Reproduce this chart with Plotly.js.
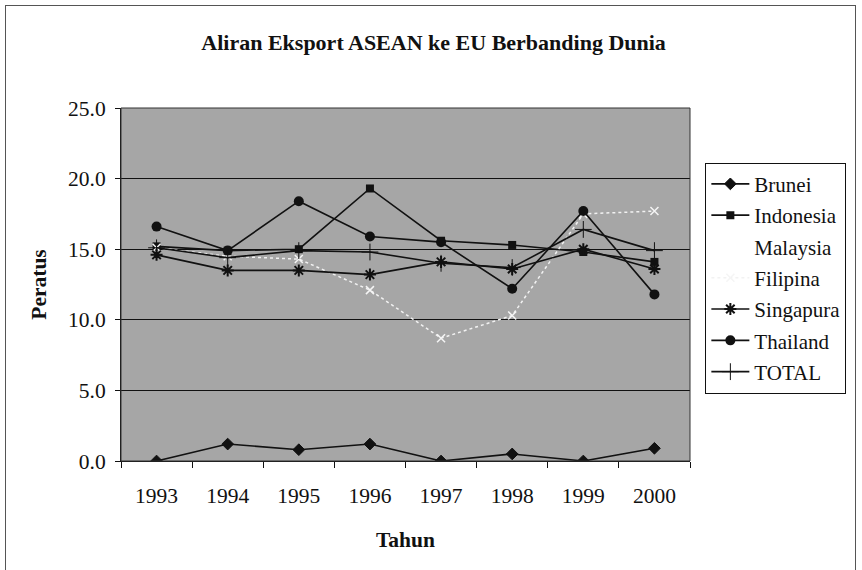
<!DOCTYPE html>
<html><head><meta charset="utf-8">
<script src="https://cdn.plot.ly/plotly-3.0.1.min.js"></script>
<style>
html,body{margin:0;padding:0;background:#fff;}
#wrap{position:relative;width:862px;height:570px;overflow:hidden;}
#chart{width:862px;height:570px;}
#frame{position:absolute;left:5px;top:5px;width:849px;height:580px;border:1px solid #555;pointer-events:none;}
</style></head>
<body><div id="wrap"><div id="chart"></div><div id="frame"></div></div>
<script>
const years = ['1993','1994','1995','1996','1997','1998','1999','2000'];
const brunei    = [0.0, 1.2, 0.8, 1.2, 0.0, 0.5, 0.0, 0.9];
const indonesia = [15.2, 14.9, 15.0, 19.3, 15.6, 15.3, 14.8, 14.1];
const malaysia  = [null, null, null, null, null, null, null, null];
const filipina  = [15.1, 14.5, 14.3, 12.1, 8.7, 10.3, 17.5, 17.7];
const singapura = [14.6, 13.5, 13.5, 13.2, 14.1, 13.6, 15.0, 13.6];
const thailand  = [16.6, 14.9, 18.4, 15.9, 15.5, 12.2, 17.7, 11.8];
const total     = [15.1, 14.4, 14.9, 14.8, 14.0, 13.7, 16.4, 14.9];
const yTicks = [0, 5, 10, 15, 20, 25];

const blk = '#111';
function tr(name, y, symbol, extra) {
  return Object.assign({
    type: 'scatter', mode: 'lines+markers', name: name, x: years, y: y, legendgroup: name,
    line: {color: blk, width: 1.6},
    marker: {symbol: symbol, size: 9, color: blk, line: {color: blk, width: 1}}
  }, extra || {});
}
const data = [
  tr('Brunei', brunei, 'diamond'),
  tr('Indonesia', indonesia, 'square', {marker: {symbol: 'square', size: 8, color: blk}}),
  tr('Malaysia', malaysia, 'circle', {mode: 'lines', line: {color: 'rgba(0,0,0,0)', width: 0}}),
  tr('Filipina', filipina, 'x-thin-open', {line: {color: '#f2f2f2', width: 1.5, dash: 'dot'},
     marker: {symbol: 'x-thin-open', size: 8, color: '#f5f5f5', line: {color: '#f5f5f5', width: 1.5}}}),
  tr('Singapura', singapura, 'asterisk-open', {marker: {symbol: 'asterisk-open', size: 10, color: blk, line: {color: blk, width: 2}}}),
  tr('Thailand', thailand, 'circle', {marker: {symbol: 'circle', size: 10, color: blk}}),
  tr('TOTAL', total, 'cross-thin-open', {marker: {symbol: 'cross-thin-open', size: 12, color: blk, line: {color: blk, width: 1}}})
];
const serif = '"Liberation Serif", "Times New Roman", serif';
const fs = 21.5;
const layout = {
  width: 862, height: 570,
  margin: {l: 121, r: 172, t: 108, b: 109},
  paper_bgcolor: '#ffffff',
  plot_bgcolor: '#a6a6a6',
  font: {family: serif, size: fs, color: '#111'},
  title: {text: '<b>Aliran Eksport ASEAN ke EU Berbanding Dunia</b>', font: {family: serif, size: 22, color: '#111'},
          x: 0.503, xanchor: 'center', y: 0.926, yanchor: 'middle'},
  xaxis: {type: 'category', range: [-0.5, 7.5], tickson: 'boundaries', ticks: 'outside', ticklen: 6,
          tickcolor: '#111', showline: true, linecolor: '#111', linewidth: 1, showgrid: false, zeroline: false,
          tickfont: {family: serif, size: fs}, ticklabelstandoff: 15,
          title: {text: '<b>Tahun</b>', font: {family: serif, size: fs}, standoff: 25}},
  yaxis: {range: [0, 25], tickvals: yTicks, tickformat: '.1f', ticks: 'outside', ticklen: 5, tickcolor: '#111',
          showline: true, linecolor: '#111', linewidth: 1, showgrid: true, gridcolor: '#111', gridwidth: 1,
          zeroline: false, tickfont: {family: serif, size: fs}, ticklabelstandoff: 5,
          title: {text: '<b>Peratus</b>', font: {family: serif, size: fs}, standoff: 15}},
  showlegend: true,
  legend: {x: 1.027, xanchor: 'left', y: 0.845, yanchor: 'top', bgcolor: '#fff', bordercolor: '#111', borderwidth: 1,
           font: {family: serif, size: 21}, itemwidth: 38, tracegroupgap: 1},
  shapes: [{type: 'rect', xref: 'paper', yref: 'paper', x0: 0, x1: 1, y0: 0, y1: 1, line: {color: '#333', width: 1}}]
};
Plotly.newPlot('chart', data, layout, {displayModeBar: false, staticPlot: true});
</script></body></html>
